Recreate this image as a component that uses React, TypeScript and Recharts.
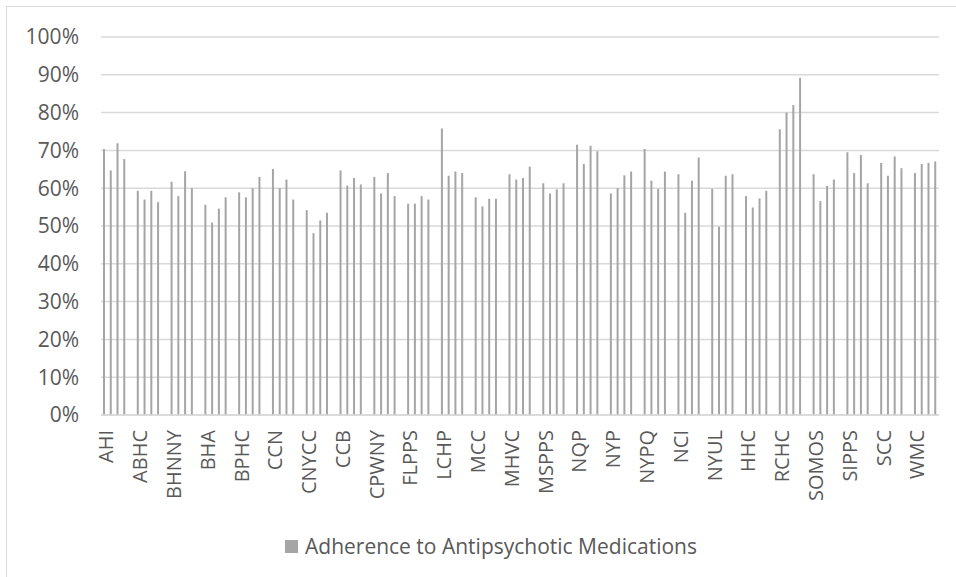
import React from "react";
import { BarChart, Bar, XAxis, YAxis, CartesianGrid } from "recharts";

// organisations shown on the x axis (one group of four bars each)
const orgs = [
  "AHI", "ABHC", "BHNNY", "BHA", "BPHC", "CCN", "CNYCC", "CCB", "CPWNY",
  "FLPPS", "LCHP", "MCC", "MHVC", "MSPPS", "NQP", "NYP", "NYPQ", "NCI",
  "NYUL", "HHC", "RCHC", "SOMOS", "SIPPS", "SCC", "WMC",
];

// adherence % per organisation, four bars per group
const adherence = [
  [70.4, 64.7, 71.9, 67.7],
  [59.3, 57.0, 59.3, 56.3],
  [61.7, 57.9, 64.5, 60.0],
  [55.6, 50.9, 54.6, 57.6],
  [58.9, 57.6, 60.0, 63.0],
  [65.1, 60.0, 62.3, 57.0],
  [54.2, 48.1, 51.5, 53.5],
  [64.7, 60.7, 62.7, 61.0],
  [63.0, 58.6, 64.0, 57.9],
  [55.9, 55.9, 57.9, 57.0],
  [75.8, 63.3, 64.4, 64.0],
  [57.6, 55.2, 57.2, 57.2],
  [63.7, 62.3, 62.7, 65.7],
  [61.3, 58.6, 59.7, 61.3],
  [71.5, 66.4, 71.2, 69.8],
  [58.6, 60.0, 63.4, 64.4],
  [70.4, 62.0, 59.8, 64.4],
  [63.7, 53.5, 62.0, 68.1],
  [59.8, 49.8, 63.3, 63.7],
  [57.9, 54.9, 57.3, 59.3],
  [75.6, 80.0, 82.0, 89.2],
  [63.7, 56.6, 60.6, 62.3],
  [69.5, 64.0, 68.8, 61.3],
  [66.7, 63.3, 68.4, 65.3],
  [64.0, 66.4, 66.7, 67.1],
];

const yTicks = [0, 10, 20, 30, 40, 50, 60, 70, 80, 90, 100];
const seriesName = "Adherence to Antipsychotic Medications";

const FONT = "'Open Sans', 'Liberation Sans', sans-serif";
const TEXT = "#595959";
const GRID = "#D9D9D9";
const BAR = "#A5A5A5";

// flat table: four slots per org, then an empty gap slot between groups
type Row = { slot: string; label: string; value: number | null };
const rows: Row[] = [];
orgs.forEach((org, i) => {
  adherence[i].forEach((v, j) => {
    rows.push({ slot: `${org}-${j}`, label: j === 0 ? org : "", value: v });
  });
  if (i < orgs.length - 1) rows.push({ slot: `${org}-gap`, label: "", value: null });
});
const labelBySlot: Record<string, string> = {};
rows.forEach((r) => (labelBySlot[r.slot] = r.label));

const OrgTick = (props: any) => {
  const { x, y, payload } = props;
  const label = labelBySlot[payload.value] ?? "";
  return (
    <text
      x={0}
      y={0}
      transform={`translate(${x + 9},${y + 15}) rotate(-90)`}
      textAnchor="end"
      fill={TEXT}
      fontSize={20}
      fontFamily={FONT}
    >
      {label}
    </text>
  );
};

export default function App() {
  return (
    <div
      style={{
        position: "fixed",
        left: 0,
        top: 0,
        width: 956,
        height: 577,
        overflow: "hidden",
        background: "#fff",
        fontFamily: FONT,
      }}
    >
      <div
        style={{
          position: "absolute",
          left: 6,
          top: 6,
          width: 1200,
          height: 1200,
          border: `1px solid ${GRID}`,
        }}
      />
      <BarChart
        width={956}
        height={577}
        data={rows}
        margin={{ top: 37, right: 17, bottom: 0, left: 0 }}
        barCategoryGap={0}
      >
        <CartesianGrid vertical={false} stroke={GRID} strokeWidth={1.5} />
        <YAxis
          width={101}
          domain={[0, 100]}
          ticks={yTicks}
          tickFormatter={(v: number) => `${v}%`}
          axisLine={false}
          tickLine={false}
          tickSize={0}
          tickMargin={22}
          tick={{ fill: TEXT, fontSize: 21, fontFamily: FONT }}
        />
        <XAxis
          dataKey="slot"
          height={162}
          interval={4}
          tickLine={false}
          tickSize={0}
          tickMargin={0}
          axisLine={{ stroke: GRID, strokeWidth: 1.5 }}
          tick={<OrgTick />}
        />
        <Bar
          dataKey="value"
          name={seriesName}
          fill={BAR}
          barSize={2}
          isAnimationActive={false}
        />
      </BarChart>
      <div
        style={{
          position: "absolute",
          left: 285,
          top: 532,
          height: 28,
          display: "flex",
          alignItems: "center",
          color: TEXT,
          fontSize: 21,
          whiteSpace: "nowrap",
        }}
      >
        <span style={{ width: 13, height: 13, background: BAR, marginRight: 7, display: "inline-block" }} />
        <span>{seriesName}</span>
      </div>
    </div>
  );
}
